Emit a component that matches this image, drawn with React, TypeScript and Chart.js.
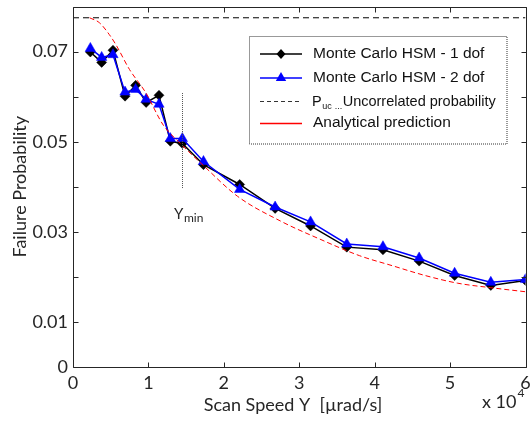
import React, { useEffect, useRef } from "react";
import { Chart, registerables } from "chart.js";

Chart.register(...registerables);

// ---- data (scan speed in µrad/s, probabilities) ----
const scanSpeeds = [2300, 3800, 5300, 6900, 8300, 9700, 11400, 12900, 14500, 17300, 22100, 26800, 31500, 36300, 41100, 45900, 50600, 55400, 60000];
const hsm1Dof = [0.0699, 0.0676, 0.0703, 0.0601, 0.0625, 0.0587, 0.0603, 0.0501, 0.0496, 0.0449, 0.0405, 0.0352, 0.0313, 0.0266, 0.026, 0.0235, 0.0203, 0.0181, 0.0192];
const hsm2Dof = [0.0707, 0.0687, 0.0693, 0.061, 0.0616, 0.0594, 0.0583, 0.0507, 0.0507, 0.0456, 0.0394, 0.0355, 0.0322, 0.0273, 0.0267, 0.0242, 0.0208, 0.0188, 0.0194];
const analyticSpeeds = [2200, 3500, 4800, 5700, 7500, 9600, 12000, 14000, 17300, 21800, 27500, 32700, 38000, 42300, 46700, 51000, 55400, 60000];
const analyticProb = [0.0775, 0.0764, 0.0738, 0.0715, 0.066, 0.061, 0.0536, 0.05, 0.0447, 0.0379, 0.0324, 0.0284, 0.0247, 0.0225, 0.0203, 0.0186, 0.0176, 0.0167];
const uncorrelatedSpeeds = [0, 60000];
const uncorrelatedProb = [0.0775, 0.0775];
const upsilonMin = 14500;
const upsilonMarkerRange = [0.0396, 0.0608];

const xTicks = [0, 10000, 20000, 30000, 40000, 50000, 60000];
const xTickLabels = ["0", "1", "2", "3", "4", "5", "6"];
const yTicks = [0, 0.01, 0.02, 0.03, 0.04, 0.05, 0.06, 0.07, 0.08];
const yTickLabels = ["0", "0.01", "", "0.03", "", "0.05", "", "0.07", ""];

const xTitle = "Scan Speed Υ  [µrad/s]";
const yTitle = "Failure Probability";
const legendLabels = ["Monte Carlo HSM - 1 dof", "Monte Carlo HSM - 2 dof", "Uncorrelated probability", "Analytical prediction"];

const AXIS_FONT = "Lato";
const LEGEND_FONT = "'Liberation Sans', Arial, sans-serif";

const decorPlugin = {
  id: "decor",
  afterDatasetsDraw(chart: any) {
    const { ctx, chartArea: a, scales } = chart;
    const xs = scales.x;
    const ys = scales.y;
    const line = (x1: number, y1: number, x2: number, y2: number) => {
      ctx.beginPath();
      ctx.moveTo(x1, y1);
      ctx.lineTo(x2, y2);
      ctx.stroke();
    };
    ctx.save();
    // frame
    ctx.strokeStyle = "#262626";
    ctx.lineWidth = 1;
    ctx.setLineDash([]);
    const L = Math.round(a.left) + 0.5;
    const R = Math.round(a.right) + 0.5;
    const T = Math.round(a.top) + 0.5;
    const B = Math.round(a.bottom) + 0.5;
    line(L, T, R, T);
    line(L, B, R, B);
    line(L, T, L, B);
    line(R, T, R, B);
    // inward ticks
    const tl = 5;
    xTicks.forEach((v) => {
      const px = Math.round(xs.getPixelForValue(v)) + 0.5;
      line(px, B, px, B - tl);
      line(px, T, px, T + tl);
    });
    yTicks.forEach((v) => {
      const py = Math.round(ys.getPixelForValue(v)) + 0.5;
      line(L, py, L + tl, py);
      line(R, py, R - tl, py);
    });

    // Υmin marker
    const ux = Math.round(xs.getPixelForValue(upsilonMin)) + 0.5;
    ctx.strokeStyle = "#555";
    ctx.setLineDash([1, 1]);
    line(ux, ys.getPixelForValue(upsilonMarkerRange[1]), ux, ys.getPixelForValue(upsilonMarkerRange[0]));
    ctx.setLineDash([]);
    ctx.fillStyle = "#262626";
    ctx.textBaseline = "alphabetic";
    ctx.textAlign = "left";
    ctx.font = `15px ${AXIS_FONT}`;
    ctx.fillText("Υ", 174, 219);
    ctx.font = `12px ${AXIS_FONT}`;
    ctx.fillText("min", 184, 222);

    // x axis title (centred as in the reference)
    ctx.font = `18px ${AXIS_FONT}`;
    ctx.textAlign = "center";
    ctx.textBaseline = "middle";
    ctx.fillText(xTitle, 293, 405);

    // x 10^4
    ctx.textAlign = "left";
    ctx.textBaseline = "alphabetic";
    ctx.font = `18px ${AXIS_FONT}`;
    ctx.fillText("x 10", 482, 408);
    const w = ctx.measureText("x 10").width;
    ctx.font = `12px ${AXIS_FONT}`;
    ctx.fillText("4", 482 + w + 1, 397);

    // legend box
    const bx = 249.5, by = 36.5, bw = 257.5, bh = 107.5;
    ctx.fillStyle = "#ffffff";
    ctx.fillRect(bx, by, bw, bh);
    ctx.strokeStyle = "#333";
    ctx.lineWidth = 1;
    ctx.setLineDash([1, 1]);
    ctx.strokeRect(bx, by, bw, bh);
    ctx.setLineDash([]);
    const rows = [54, 78, 101, 123];
    const sx1 = 260, sx2 = 302, mx = 281, tx = 313;
    // row 1
    ctx.strokeStyle = "#000000";
    ctx.lineWidth = 1.5;
    line(sx1, rows[0], sx2, rows[0]);
    ctx.fillStyle = "#000000";
    ctx.beginPath();
    ctx.moveTo(mx, rows[0] - 5);
    ctx.lineTo(mx + 4.5, rows[0]);
    ctx.lineTo(mx, rows[0] + 5);
    ctx.lineTo(mx - 4.5, rows[0]);
    ctx.closePath();
    ctx.fill();
    // row 2
    ctx.strokeStyle = "#0000ff";
    line(sx1, rows[1], sx2, rows[1]);
    ctx.fillStyle = "#0000ff";
    ctx.beginPath();
    ctx.moveTo(mx, rows[1] - 6);
    ctx.lineTo(mx + 5.2, rows[1] + 3);
    ctx.lineTo(mx - 5.2, rows[1] + 3);
    ctx.closePath();
    ctx.fill();
    // row 3
    ctx.strokeStyle = "#333333";
    ctx.lineWidth = 1;
    ctx.setLineDash([4, 3]);
    line(sx1, rows[2] + 0.5, sx2, rows[2] + 0.5);
    ctx.setLineDash([]);
    // row 4
    ctx.strokeStyle = "rgb(255, 0, 0)";
    ctx.lineWidth = 1.3;
    line(sx1, rows[3] + 0.5, sx2, rows[3] + 0.5);

    ctx.fillStyle = "#111";
    ctx.textBaseline = "middle";
    ctx.font = `15.5px ${LEGEND_FONT}`;
    ctx.fillText(legendLabels[0], tx, rows[0]);
    ctx.fillText(legendLabels[1], tx, rows[1]);
    ctx.fillText(legendLabels[3], tx, rows[3]);
    // row 3 text with subscript
    ctx.textBaseline = "alphabetic";
    const base3 = rows[2] + 5;
    ctx.font = `14.5px ${LEGEND_FONT}`;
    ctx.fillText("P", tx - 1, base3);
    let cx = tx - 1 + ctx.measureText("P").width + 0.5;
    ctx.font = `9px ${LEGEND_FONT}`;
    ctx.fillText("uc", cx, base3 + 3);
    cx += ctx.measureText("uc").width + 3;
    ctx.fillText("...", cx, base3 + 3);
    cx += ctx.measureText("...").width + 0.5;
    ctx.font = `14.5px ${LEGEND_FONT}`;
    ctx.fillText(legendLabels[2], cx, base3);

    ctx.restore();
  },
};

export default function App() {
  const canvasRef = useRef<HTMLCanvasElement | null>(null);

  useEffect(() => {
    const canvas = canvasRef.current;
    if (!canvas) return;
    const toPts = (xsArr: number[], ysArr: number[]) => xsArr.map((x, i) => ({ x, y: ysArr[i] }));
    const chart = new Chart(canvas, {
      type: "scatter",
      data: {
        datasets: [
          {
            label: legendLabels[3],
            data: toPts(analyticSpeeds, analyticProb),
            showLine: true,
            borderColor: "#ff0000",
            borderWidth: 1,
            borderDash: [5, 3],
            pointRadius: 0,
            cubicInterpolationMode: "monotone",
            fill: false,
          },
          {
            label: legendLabels[1],
            data: toPts(scanSpeeds, hsm2Dof),
            showLine: true,
            borderColor: "#0000ff",
            borderWidth: 1.5,
            pointStyle: "triangle",
            pointRadius: 6,
            pointBackgroundColor: "#0000ff",
            pointBorderColor: "#0000ff",
            pointBorderWidth: 0.5,
          },
          {
            label: legendLabels[0],
            data: toPts(scanSpeeds, hsm1Dof),
            showLine: true,
            borderColor: "#000000",
            borderWidth: 1.5,
            pointStyle: "rectRot",
            pointRadius: 5,
            pointBackgroundColor: "#000000",
            pointBorderColor: "#000000",
            pointBorderWidth: 0.5,
          },
          {
            label: legendLabels[2],
            data: toPts(uncorrelatedSpeeds, uncorrelatedProb),
            showLine: true,
            borderColor: "#000000",
            borderWidth: 1,
            borderDash: [6, 4],
            pointRadius: 0,
          },
        ],
      } as any,
      options: {
        responsive: false,
        animation: false,
        devicePixelRatio: 1,
        layout: { padding: { top: 4, left: 0, right: 0, bottom: 0 } },
        plugins: { legend: { display: false }, tooltip: { enabled: false } },
        scales: {
          x: {
            type: "linear",
            min: 0,
            max: 60000,
            afterBuildTicks: (s: any) => {
              s.ticks = xTicks.map((v) => ({ value: v }));
            },
            afterFit: (s: any) => {
              s.height = 55;
              s.paddingLeft = 0;
              s.paddingRight = 0;
            },
            grid: { display: false, drawTicks: false },
            border: { display: false },
            ticks: {
              autoSkip: false,
              maxRotation: 0,
              padding: 5,
              color: "#262626",
              font: { family: AXIS_FONT, size: 18 },
              callback: (_v: any, i: number) => xTickLabels[i],
            },
            title: { display: false },
          },
          y: {
            type: "linear",
            min: 0,
            max: 0.08,
            afterBuildTicks: (s: any) => {
              s.ticks = yTicks.map((v) => ({ value: v }));
            },
            afterFit: (s: any) => {
              s.width = 73;
              s.paddingTop = 0;
              s.paddingBottom = 0;
            },
            grid: { display: false, drawTicks: false },
            border: { display: false },
            ticks: {
              autoSkip: false,
              padding: 5,
              color: "#262626",
              font: { family: AXIS_FONT, size: 18 },
              callback: (_v: any, i: number) => yTickLabels[i],
            },
            title: {
              display: true,
              text: yTitle,
              color: "#262626",
              font: { family: AXIS_FONT, size: 18 },
              padding: { top: 9, bottom: 0 },
            },
          },
        },
      } as any,
      plugins: [decorPlugin],
    });
    return () => chart.destroy();
  }, []);

  return (
    <div style={{ position: "fixed", left: 0, top: 0, width: 532, height: 422, background: "#fff" }}>
      <canvas ref={canvasRef} width={532} height={422} style={{ display: "block" }} />
    </div>
  );
}
